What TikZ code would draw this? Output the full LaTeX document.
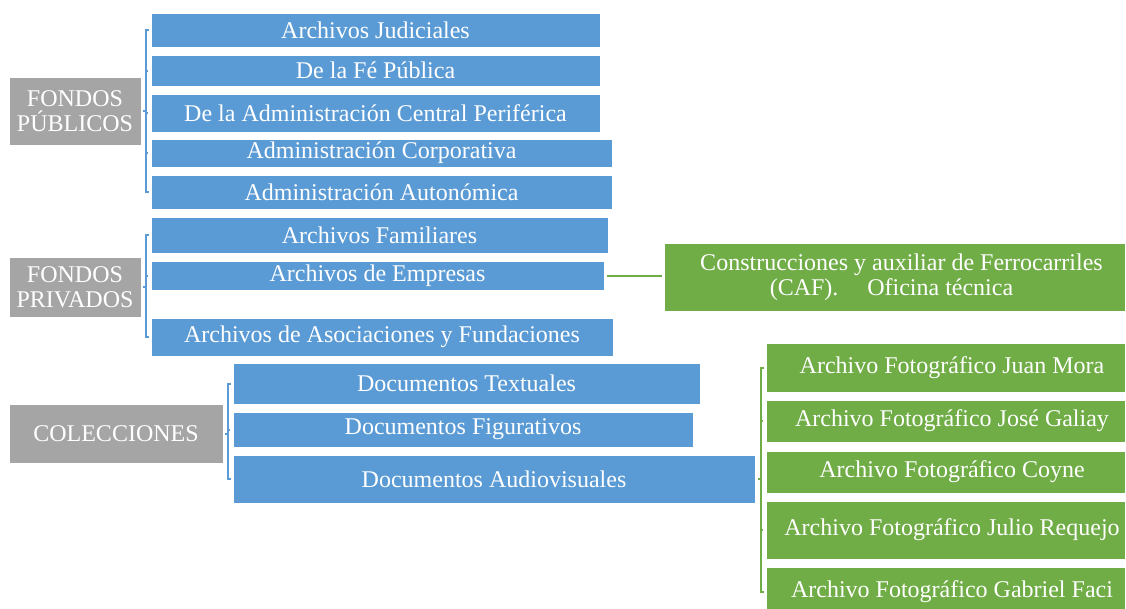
\documentclass[tikz,border=0pt]{standalone}
\usepackage{fontspec}
\setmainfont{Liberation Serif}
\definecolor{bblue}{HTML}{5B9BD5}
\definecolor{ggreen}{HTML}{70AD47}
\definecolor{ggray}{HTML}{A5A5A5}
\begin{document}
\begin{tikzpicture}[x=1pt,y=-1pt,
  box/.style={rectangle, anchor=north west, inner sep=0pt, outer sep=0pt, draw=white, line width=0.6pt, text=white, align=center,
    font=\fontsize{24}{25}\selectfont},
  bluebox/.style={box, fill=bblue},
  greenbox/.style={box, fill=ggreen},
  graybox/.style={box, fill=ggray},
  bbr/.style={draw=bblue, line width=2pt},
  gbr/.style={draw=ggreen, line width=2pt}]
\useasboundingbox (0,0) rectangle (1126,608);
\clip (0,0) rectangle (1126,608);
% gray parents
\node[graybox, minimum width=132pt, minimum height=68pt] (fp) at (9,77) {FONDOS\\PÚBLICOS};
\node[graybox, minimum width=132pt, minimum height=60pt] (fpr) at (9,257) {FONDOS\\PRIVADOS};
\node[graybox, minimum width=214pt, minimum height=59pt] (col) at (9,404) {COLECCIONES};
% public
\node[bluebox, minimum width=449pt, minimum height=34pt] (a1) at (151,13) {Archivos Judiciales};
\node[bluebox, minimum width=449pt, minimum height=31pt] (a2) at (151,55) {De la Fé Pública};
\node[bluebox, minimum width=449pt, minimum height=38pt] (a3) at (151,94) {De la Administración Central Periférica};
\node[bluebox, minimum width=461pt, minimum height=28pt] (a4) at (151,139) {Administración Corporativa};
\node[bluebox, minimum width=461pt, minimum height=34pt] (a5) at (151,175) {Administración Autonómica};
% private
\node[bluebox, minimum width=457pt, minimum height=36pt] (b1) at (151,217) {Archivos Familiares};
\node[bluebox, minimum width=453pt, minimum height=29pt] (b2) at (151,261) {Archivos de Empresas};
\node[bluebox, minimum width=462pt, minimum height=38pt] (b3) at (151,318) {Archivos de Asociaciones y Fundaciones};
% collections
\node[bluebox, minimum width=467pt, minimum height=41pt] (c1) at (233,363) {Documentos Textuales};
\node[bluebox, minimum width=460pt, minimum height=35pt] (c2) at (233,412) {Documentos Figurativos};
\node[bluebox, minimum width=522pt, minimum height=48pt] (c3) at (233,455) {Documentos Audiovisuales};
% green
\node[greenbox, minimum width=461pt, minimum height=68pt] (caf) at (664,243) {\hspace*{14pt}Construcciones y auxiliar de Ferrocarriles\\(CAF).\hspace{1.2em}Oficina técnica\hspace*{6pt}};
\node[greenbox, minimum width=359pt, minimum height=49pt] (g1) at (766,343) {\hspace*{13pt}Archivo Fotográfico Juan Mora};
\node[greenbox, minimum width=359pt, minimum height=42pt] (g2) at (766,400) {\hspace*{13pt}Archivo Fotográfico José Galiay};
\node[greenbox, minimum width=359pt, minimum height=42pt] (g3) at (766,451) {\hspace*{13pt}Archivo Fotográfico Coyne};
\node[greenbox, minimum width=359pt, minimum height=58pt] (g4) at (766,501) {\hspace*{13pt}Archivo Fotográfico Julio Requejo};
\node[greenbox, minimum width=359pt, minimum height=50pt] (g5) at (766,567) {\hspace*{13pt}Archivo Fotográfico Gabriel Faci};
% brackets public
\coordinate (pa) at ([xshift=-5pt]a1.west);
\draw[bbr] ([xshift=-2pt]a1.west) -| ([xshift=-5pt]a5.west) -- ([xshift=-2pt]a5.west);
\foreach \n in {a2,a3,a4} \draw[bbr] ([xshift=-5pt]\n.west) -- ([xshift=-3pt]\n.west);
\draw[bbr] ([xshift=2pt]fp.east) -- (fp.east -| pa);
% private
\coordinate (pb) at ([xshift=-5pt]b1.west);
\draw[bbr] ([xshift=-2pt]b1.west) -| ([xshift=-5pt]b3.west) -- ([xshift=-2pt]b3.west);
\draw[bbr] ([xshift=-5pt]b2.west) -- ([xshift=-3pt]b2.west);
\draw[bbr] ([xshift=2pt]fpr.east) -- (fpr.east -| pb);
% collections
\coordinate (pc) at ([xshift=-5pt]c1.west);
\draw[bbr] ([xshift=-2pt]c1.west) -| ([xshift=-5pt]c3.west) -- ([xshift=-2pt]c3.west);
\draw[bbr] ([xshift=-5pt]c2.west) -- ([xshift=-3pt]c2.west);
\draw[bbr] ([xshift=2pt]col.east) -- (col.east -| pc);
% CAF
\draw[gbr] ([xshift=3pt]b2.east) -- ([xshift=-2pt]caf.west |- b2.east);
% photos
\coordinate (pg) at ([xshift=-5pt]g1.west);
\draw[gbr] ([xshift=-2pt]g1.west) -| ([xshift=-5pt]g5.west) -- ([xshift=-2pt]g5.west);
\foreach \n in {g2,g4} \draw[gbr] ([xshift=-5pt]\n.west) -- ([xshift=-3pt]\n.west);
\draw[gbr] ([xshift=3pt]c3.east) -- (c3.east -| pg);
\end{tikzpicture}
\end{document}
